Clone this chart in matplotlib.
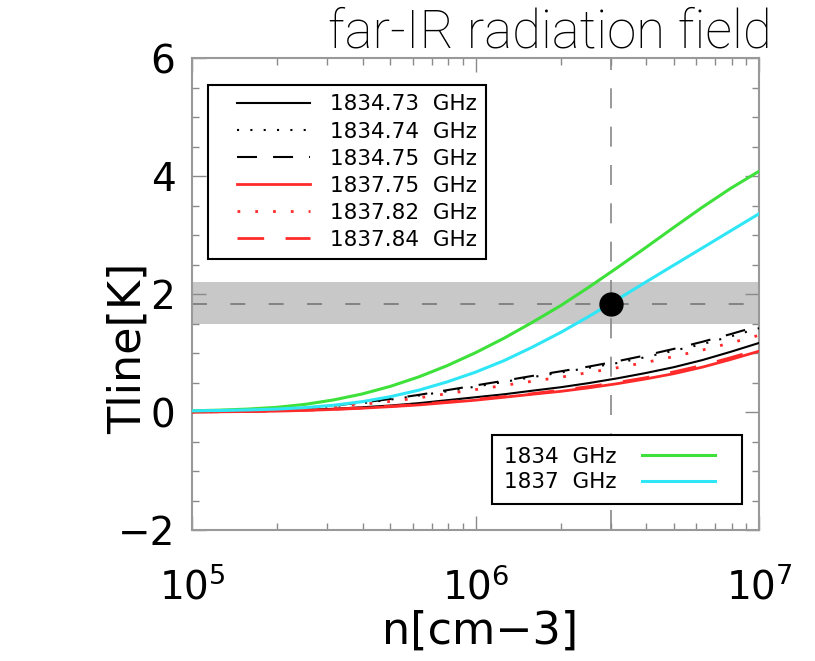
import numpy as np
import matplotlib
matplotlib.use("Agg")
import matplotlib.pyplot as plt
from matplotlib.lines import Line2D
from matplotlib.ticker import LogLocator, MultipleLocator, FixedLocator
from matplotlib.legend_handler import HandlerLine2D

# density grid [cm^-3] and line temperatures [K]
density = [1e5, 1.26e5, 1.58e5, 2e5, 2.51e5, 3.16e5, 3.98e5, 5.01e5, 6.31e5, 7.94e5,
           1e6, 1.26e6, 1.58e6, 2e6, 2.51e6, 3.16e6, 3.98e6, 5.01e6, 6.31e6, 7.94e6, 1e7]
t_183473 = [0.0, 0.005, 0.01, 0.02, 0.035, 0.055, 0.08, 0.11, 0.15, 0.20,
            0.25, 0.30, 0.36, 0.42, 0.49, 0.57, 0.66, 0.76, 0.88, 1.02, 1.17]
t_183474 = [0.0, 0.01, 0.02, 0.04, 0.07, 0.10, 0.15, 0.21, 0.28, 0.35,
            0.43, 0.51, 0.59, 0.67, 0.75, 0.83, 0.93, 1.04, 1.15, 1.28, 1.42]
t_183475 = [0.0, 0.01, 0.02, 0.04, 0.07, 0.11, 0.16, 0.22, 0.29, 0.37,
            0.45, 0.53, 0.61, 0.69, 0.77, 0.86, 0.96, 1.07, 1.19, 1.32, 1.46]
t_183775 = [0.0, 0.003, 0.008, 0.015, 0.027, 0.043, 0.064, 0.09, 0.12, 0.16,
            0.20, 0.25, 0.30, 0.35, 0.41, 0.48, 0.56, 0.65, 0.76, 0.89, 1.03]
t_183782 = [0.0, 0.005, 0.015, 0.03, 0.055, 0.09, 0.13, 0.18, 0.24, 0.31,
            0.38, 0.45, 0.52, 0.59, 0.67, 0.75, 0.84, 0.94, 1.05, 1.17, 1.30]
t_183784 = [0.0, 0.004, 0.01, 0.018, 0.03, 0.047, 0.07, 0.097, 0.13, 0.17,
            0.215, 0.26, 0.31, 0.37, 0.43, 0.50, 0.58, 0.68, 0.79, 0.92, 1.06]
t_1834 = [0.02, 0.032, 0.05, 0.08, 0.13, 0.205, 0.305, 0.435, 0.595, 0.785,
          1.005, 1.25, 1.515, 1.805, 2.115, 2.445, 2.785, 3.13, 3.47, 3.79, 4.08]
t_1837 = [0.02, 0.025, 0.035, 0.05, 0.075, 0.115, 0.175, 0.26, 0.37, 0.51,
          0.675, 0.87, 1.095, 1.35, 1.62, 1.905, 2.20, 2.49, 2.78, 3.07, 3.36]

labels_hf = ["1834.73  GHz", "1834.74  GHz", "1834.75  GHz",
             "1837.75  GHz", "1837.82  GHz", "1837.84  GHz"]
labels_sum = ["1834  GHz", "1837  GHz"]

obs_tline = 1.83
obs_low, obs_high = 1.49, 2.20
obs_density = 3e6


class PaddedLine(HandlerLine2D):
    # legend line inset from the left/right of its handle box (in font units)
    def __init__(self, left=0.0, right=0.0):
        super().__init__()
        self.left, self.right = left, right

    def create_artists(self, legend, orig_handle, xdescent, ydescent,
                       width, height, fontsize, trans):
        xdescent = xdescent - self.left * fontsize
        width = width - (self.left + self.right) * fontsize
        return super().create_artists(legend, orig_handle, xdescent, ydescent,
                                      width, height, fontsize, trans)


plt.rcParams["font.family"] = "DejaVu Sans"

fig = plt.figure(figsize=(8.15, 6.61), dpi=100)
ax = fig.add_axes([192 / 815, 131 / 661, 567 / 815, 472 / 661])
ax.set_xscale("log")

ax.axhspan(obs_low, obs_high, color="#c8c8c8", lw=0, zorder=0)
ax.axhline(obs_tline, color="#777777", lw=1.2, dashes=(9, 14), zorder=1)
ax.axvline(obs_density, color="#888888", lw=1.2, dashes=(12, 11), zorder=1)

dot = (1.0, 5.4)
dash = (9.6, 7.7)
l1, = ax.plot(density, t_183473, color="black", lw=1.5, label=labels_hf[0], zorder=3)
l2, = ax.plot(density, t_183474, color="black", lw=1.5, dashes=dot, label=labels_hf[1], zorder=3)
l3, = ax.plot(density, t_183475, color="black", lw=1.5, dashes=dash, label=labels_hf[2], zorder=3)
l4, = ax.plot(density, t_183775, color="#ff2a2a", lw=2, label=labels_hf[3], zorder=3)
l5, = ax.plot(density, t_183782, color="#ff2a2a", lw=2, dashes=dot, label=labels_hf[4], zorder=3)
l6, = ax.plot(density, t_183784, color="#ff2a2a", lw=2, dashes=dash, label=labels_hf[5], zorder=3)
g, = ax.plot(density, t_1834, color="#3ee03a", lw=2.2, label=labels_sum[0], zorder=4)
c, = ax.plot(density, t_1837, color="#2fe6f6", lw=2.2, label=labels_sum[1], zorder=4)

ax.plot([obs_density], [obs_tline], "o", color="black", ms=16.5, zorder=5)

ax.set_xlim(1e5, 1e7)
ax.set_ylim(-2, 6)
ax.xaxis.set_major_locator(FixedLocator([1e5, 1e6, 1e7]))
ax.xaxis.set_minor_locator(LogLocator(base=10, subs=np.arange(2, 10)))
ax.yaxis.set_major_locator(MultipleLocator(2))
ax.yaxis.set_minor_locator(MultipleLocator(0.5))
ax.tick_params(which="both", direction="in", top=True, right=True,
               color="#8a8a8a", width=1, labelsize=28)
ax.tick_params(which="major", length=10)
ax.tick_params(which="minor", length=5)
ax.tick_params(axis="y", pad=12)
ax.tick_params(axis="x", pad=27)
for sp in ax.spines.values():
    sp.set_color("#999999")
    sp.set_linewidth(1.5)

ax.set_ylabel("Tline[K]", fontsize=32)
ax.yaxis.set_label_coords(-0.074, 0.385)
ax.set_xlabel("n[cm\u22123]", fontsize=32)
ax.xaxis.set_label_coords(0.508, -0.168)

leg1 = ax.legend(handles=[l1, l2, l3, l4, l5, l6], loc="upper left",
                 bbox_to_anchor=(16 / 567, 445 / 472), borderaxespad=0,
                 fontsize=15.5, borderpad=0.44, labelspacing=0.327,
                 handlelength=4.30, handletextpad=0.93,
                 handler_map={Line2D: PaddedLine(left=0.906)},
                 fancybox=False, framealpha=1, edgecolor="black")
leg1.get_frame().set_linewidth(1.5)
ax.add_artist(leg1)

leg2 = ax.legend(handles=[g, c], loc="upper left",
                 bbox_to_anchor=(300 / 567, 95 / 472), borderaxespad=0,
                 fontsize=15.5, borderpad=0.55, labelspacing=0.258,
                 handlelength=4.10, handletextpad=1.19, markerfirst=False,
                 handler_map={Line2D: PaddedLine(right=0.706)},
                 fancybox=False, framealpha=1, edgecolor="black")
leg2.get_frame().set_linewidth(1.5)

fig.text(772 / 815, 1 - 48 / 661, "far-IR radiation field", ha="right",
         va="baseline", fontsize=38, family="Roboto", weight="light")

fig.savefig("out.png", dpi=100)
